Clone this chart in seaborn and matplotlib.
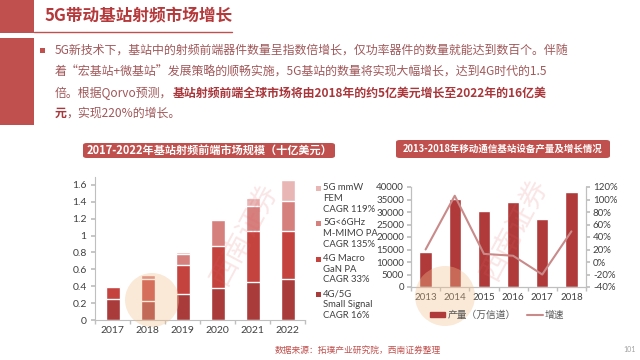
import numpy as np
import matplotlib
matplotlib.use("Agg")
import matplotlib.pyplot as plt
from matplotlib.patches import Rectangle, FancyBboxPatch, Patch, Ellipse
from matplotlib.lines import Line2D
import seaborn as sns

# data: left chart, RF front-end market (billion USD)
years_l = ["2017", "2018", "2019", "2020", "2021", "2022"]
small_signal = [0.25, 0.23, 0.31, 0.38, 0.45, 0.48]
macro_gan = [0.14, 0.26, 0.34, 0.50, 0.60, 0.58]
sub6_mimo = [0.01, 0.04, 0.13, 0.30, 0.30, 0.35]
mmw_fem = [0.00, 0.00, 0.02, 0.02, 0.10, 0.25]
legend_l = ["5G mmW\nFEM\nCAGR 119%", "5G<6GHz\nM-MIMO PA\nCAGR 135%",
            "4G Macro\nGaN PA\nCAGR 33%", "4G/5G\nSmall Signal\nCAGR 16%"]

# data: right chart, base station equipment output and growth
years_r = ["2013", "2014", "2015", "2016", "2017", "2018"]
output = [14100, 35100, 30500, 33900, 27100, 38000]
growth = [0.20, 1.06, 0.13, 0.10, -0.20, 0.49]

CJK = ["Noto Sans CJK SC", "DejaVu Sans"]
RED = "#c0504d"
sns.set_theme(style="white")
plt.rcParams["font.family"] = ["Lato", "Noto Sans CJK SC", "DejaVu Sans"]

fig = plt.figure(figsize=(6.4, 3.6), dpi=100)
W, H = 640.0, 360.0

def fx(x):
    return x / W

def fy(y):
    return 1 - y / H

# header blocks
fig.add_artist(Rectangle((0, fy(33)), fx(34), 33 / H, transform=fig.transFigure, color=RED, lw=0))
fig.add_artist(Rectangle((0, fy(125)), fx(34), 87 / H, transform=fig.transFigure, color=RED, lw=0))
fig.add_artist(Line2D([fx(34), fx(232)], [fy(32), fy(32)], transform=fig.transFigure, color=RED, lw=1))
fig.text(fx(45), fy(16), "5G带动基站射频市场增长", family=CJK, fontsize=12, weight="bold",
         color="#b5393b", va="center")

# body text
fig.add_artist(Rectangle((fx(40), fy(53)), 5 / W, 5 / H, transform=fig.transFigure, color=RED, lw=0))
body_c = "#a0585a"
bold_c = "#a8363a"
fs = 8.6
fig.text(fx(55), fy(50), "5G新技术下，基站中的射频前端器件数量呈指数倍增长，仅功率器件的数量就能达到数百个。伴随",
         family=CJK, fontsize=fs, color=body_c, va="center")
fig.text(fx(55), fy(72), "着“宏基站+微基站”发展策略的顺畅实施，5G基站的数量将实现大幅增长，达到4G时代的1.5",
         family=CJK, fontsize=fs, color=body_c, va="center")
t3 = fig.text(fx(55), fy(93), "倍。根据Qorvo预测，", family=CJK, fontsize=fs, color=body_c, va="center")
t4 = fig.text(fx(55), fy(113), "元", family=CJK, fontsize=fs, color=bold_c, weight="bold", va="center")

# chart title boxes
for (x0, x1, y0, y1, txt, size) in [(83, 335, 143, 158, "2017-2022年基站射频前端市场规模（十亿美元）", 8),
                                    (396, 610, 140, 158, "2013-2018年移动通信基站设备产量及增长情况", 6.8)]:
    fig.add_artist(FancyBboxPatch((fx(x0), fy(y1)), (x1 - x0) / W, (y1 - y0) / H,
                                  boxstyle="round,pad=0,rounding_size=0.006",
                                  transform=fig.transFigure, color=RED, lw=0))
    fig.text(fx((x0 + x1) / 2), fy((y0 + y1) / 2), txt, family=CJK, fontsize=size,
             weight="bold", color="white", ha="center", va="center")

# left chart: stacked bars
ax1 = fig.add_axes([fx(95), 40 / H, 210 / W, 143.5 / H])
layers = [small_signal, macro_gan, sub6_mimo, mmw_fem]
colors_l = ["#a93b3b", "#c4433f", "#d6807e", "#e8b6b5"]
cum = np.cumsum(np.array(layers), axis=0)
for i in range(3, -1, -1):
    sns.barplot(x=years_l, y=cum[i], color=colors_l[i], width=0.4, saturation=1, ax=ax1)
ax1.set_ylim(0, 1.7)
ax1.set_xlim(-0.5, 5.5)
yt = [0, 0.2, 0.4, 0.6, 0.8, 1.0, 1.2, 1.4, 1.6]
ax1.set_yticks(yt)
ax1.set_yticklabels(["0", "0.2", "0.4", "0.6", "0.8", "1", "1.2", "1.4", "1.6"])
ax1.set_xticks(np.arange(-0.5, 6, 1), minor=True)
ax1.tick_params(axis="x", which="major", length=0, labelsize=7.5, labelcolor="#404040", pad=4)
ax1.tick_params(axis="x", which="minor", length=3, color="#bfbfbf", direction="out", bottom=True)
ax1.tick_params(axis="y", length=3, color="#bfbfbf", direction="out", left=True,
                labelsize=7.5, labelcolor="#404040", pad=3)
for s in ["top", "right"]:
    ax1.spines[s].set_visible(False)
for s in ["left", "bottom"]:
    ax1.spines[s].set_color("#bfbfbf")
    ax1.spines[s].set_linewidth(0.8)
ax1.set_xlabel("")
ax1.set_ylabel("")

# left legend (marker at first line of each entry)
for i, lab in enumerate(legend_l):
    ytop = 188 + i * 35.5
    fig.add_artist(Rectangle((fx(316), fy(ytop + 2.5)), 5 / W, 5 / H, transform=fig.transFigure,
                             color=colors_l[3 - i], lw=0))
    fig.text(fx(323), fy(ytop - 5), lab, fontsize=6.8, color="#404040", va="top",
             linespacing=1.25)

# right chart
ax2 = fig.add_axes([fx(411), 73 / H, 175 / W, 100 / H])
sns.barplot(x=years_r, y=output, color="#b03a3a", width=0.42, saturation=1, ax=ax2)
ax3 = ax2.twinx()
sns.lineplot(x=np.arange(len(years_r)), y=growth, color="#c98a8a", lw=1.5, ax=ax3)
ax2.set_xlim(-0.5, 5.5)
ax2.set_ylim(0, 40000)
ax2.set_yticks(range(0, 40001, 5000))
ax3.set_ylim(-0.4, 1.2)
gt = [-0.4, -0.2, 0, 0.2, 0.4, 0.6, 0.8, 1.0, 1.2]
ax3.set_yticks(gt)
ax3.set_yticklabels(["%d%%" % round(v * 100) for v in gt])
ax2.set_xticks(np.arange(-0.5, 6, 1), minor=True)
ax2.tick_params(axis="x", which="major", length=0, labelsize=7, labelcolor="#404040", pad=4)
ax2.tick_params(axis="x", which="minor", length=3, color="#bfbfbf", direction="out", bottom=True)
ax2.tick_params(axis="y", length=3, color="#bfbfbf", direction="out", left=True,
                labelsize=7, labelcolor="#404040", pad=2)
ax3.tick_params(axis="y", length=3, color="#bfbfbf", direction="out", right=True,
                labelsize=7, labelcolor="#404040", pad=2)
for a in (ax2, ax3):
    a.spines["top"].set_visible(False)
    for s in ["left", "right", "bottom"]:
        a.spines[s].set_color("#bfbfbf")
        a.spines[s].set_linewidth(0.8)
    a.set_xlabel("")
    a.set_ylabel("")
handles = [Patch(color="#b03a3a", label="产量（万信道）"),
           Line2D([], [], color="#c98a8a", lw=1.5, label="增速")]
fig.legend(handles=handles, loc="center", bbox_to_anchor=(fx(497), fy(315)), ncol=2,
           frameon=False, prop={"family": CJK, "size": 7}, labelcolor="#595959",
           handlelength=1.6, handleheight=0.5, columnspacing=1.2, handletextpad=0.2)

# mixed bold / regular segments
ax1.annotate("基站射频前端全球市场将由2018年的约5亿美元增长至2022年的16亿美", xy=(1, 0.5), xycoords=t3,
             va="center", ha="left", family=CJK, fontsize=fs, color=bold_c, weight="bold",
             annotation_clip=False)
ax1.annotate("，实现220%的增长。", xy=(1, 0.5), xycoords=t4, va="center", ha="left",
             family=CJK, fontsize=fs, color=body_c, annotation_clip=False)

# faint watermarks
for (cx, cy, r) in [(152, 300, 27), (445, 296, 30)]:
    fig.add_artist(Ellipse((fx(cx), fy(cy)), 2 * r / W, 2 * r / H, transform=fig.transFigure,
                           color="#f5c08f", alpha=0.35, lw=0))
for (x, y) in [(245, 235), (515, 230)]:
    fig.text(fx(x), fy(y), "西南证券", family=CJK, fontsize=20, color="#e06060", alpha=0.16,
             rotation=62, ha="center", va="center")

# footer
fig.text(fx(275), fy(350), "数据来源：拓璞产业研究院，西南证券整理", family=CJK, fontsize=6.3,
         color="#c0504d", va="center")
fig.text(fx(623), fy(350), "101", fontsize=5, color="#a0a0a0", va="center")

fig.savefig("out.png", dpi=100)
